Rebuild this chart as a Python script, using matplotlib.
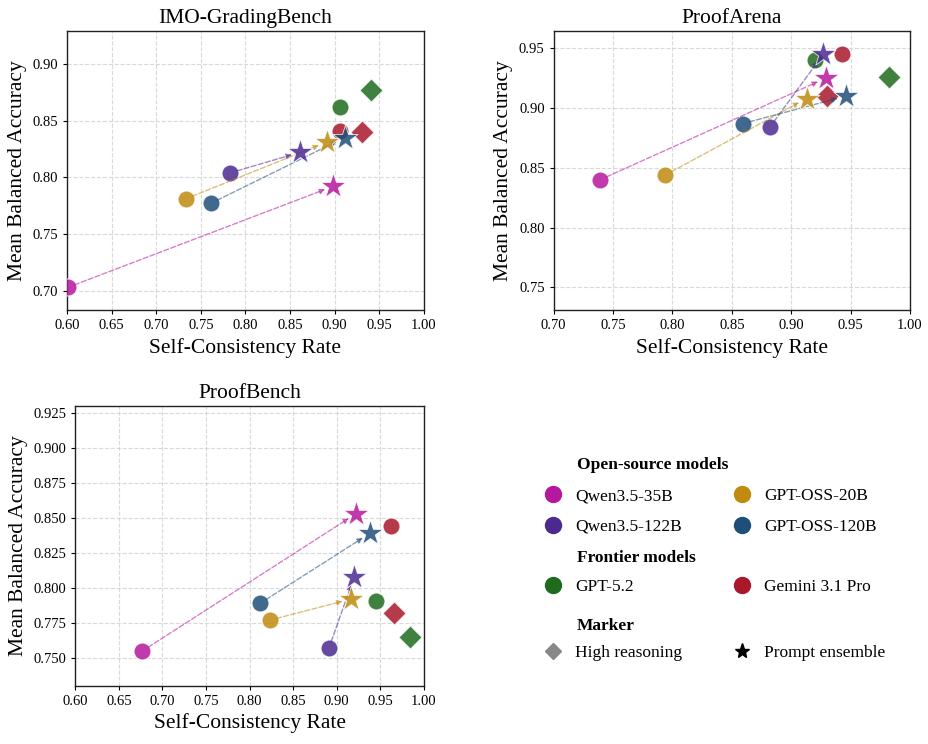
import matplotlib

matplotlib.use("Agg")
import matplotlib.pyplot as plt
from matplotlib.lines import Line2D

plt.rcParams["font.family"] = ["Liberation Serif", "DejaVu Serif"]
plt.rcParams["axes.edgecolor"] = "#222222"

models = ["Qwen3.5-35B", "Qwen3.5-122B", "GPT-OSS-20B", "GPT-OSS-120B", "GPT-5.2", "Gemini 3.1 Pro"]
colors = ["#b5179e", "#4b2991", "#c08b0f", "#1f4e79", "#1e6b1e", "#a8182a"]
open_models = models[:4]
frontier_models = models[4:]

# base runs (circle), one per model
imo_base_x = [0.601, 0.783, 0.733, 0.761, 0.906, 0.906]
imo_base_y = [0.703, 0.804, 0.781, 0.777, 0.862, 0.841]
# prompt ensemble (star), open-source models
imo_ens_x = [0.898, 0.861, 0.891, 0.911]
imo_ens_y = [0.792, 0.822, 0.831, 0.835]
# high reasoning (diamond), frontier models
imo_high_x = [0.941, 0.931]
imo_high_y = [0.877, 0.840]

arena_base_x = [0.739, 0.882, 0.794, 0.859, 0.920, 0.943]
arena_base_y = [0.840, 0.884, 0.844, 0.887, 0.940, 0.945]
arena_ens_x = [0.929, 0.927, 0.913, 0.946]
arena_ens_y = [0.925, 0.945, 0.908, 0.910]
arena_high_x = [0.982, 0.930]
arena_high_y = [0.926, 0.910]

bench_base_x = [0.677, 0.891, 0.823, 0.812, 0.945, 0.962]
bench_base_y = [0.755, 0.757, 0.777, 0.789, 0.791, 0.844]
bench_ens_x = [0.922, 0.920, 0.916, 0.938]
bench_ens_y = [0.853, 0.808, 0.792, 0.839]
bench_high_x = [0.984, 0.966]
bench_high_y = [0.765, 0.782]


def draw_panel(ax, title, base_x, base_y, ens_x, ens_y, high_x, high_y, xlim, ylim, xticks, yticks, yfmt):
    for i, c in enumerate(colors):
        ax.scatter(base_x[i], base_y[i], s=150, marker="o", color=c, alpha=0.85,
                   edgecolor="white", linewidth=0.8, zorder=3)
    for i in range(len(open_models)):
        c = colors[i]
        ax.annotate("", xy=(ens_x[i], ens_y[i]), xytext=(base_x[i], base_y[i]),
                    arrowprops=dict(arrowstyle="-|>", color=c, alpha=0.55, lw=1.0,
                                    linestyle="--", shrinkA=5, shrinkB=6, mutation_scale=8),
                    zorder=4)
        ax.scatter(ens_x[i], ens_y[i], s=360, marker="*", color=c, alpha=0.85,
                   edgecolor="white", linewidth=0.6, zorder=5)
    for j in range(len(frontier_models)):
        c = colors[4 + j]
        ax.scatter(high_x[j], high_y[j], s=140, marker="D", color=c, alpha=0.85,
                   edgecolor="white", linewidth=0.8, zorder=3)
    ax.set_xlim(*xlim)
    ax.set_ylim(*ylim)
    ax.set_xticks(xticks)
    ax.set_yticks(yticks)
    ax.set_xticklabels([f"{t:.2f}" for t in xticks], fontsize=10.5)
    ax.set_yticklabels([yfmt.format(t) for t in yticks], fontsize=10.5)
    ax.grid(True, linestyle="--", color="#d0d0d0", linewidth=0.8, alpha=0.8)
    ax.set_axisbelow(True)
    ax.set_title(title, fontsize=15.5)
    ax.set_xlabel("Self-Consistency Rate", fontsize=15.5)
    ax.set_ylabel("Mean Balanced Accuracy", fontsize=15.5)
    ax.tick_params(length=3, width=0.8)
    for sp in ax.spines.values():
        sp.set_linewidth(1.0)


fig = plt.figure(figsize=(9.29, 7.44), dpi=100)
ax1 = fig.add_axes([0.0721, 0.5833, 0.3843, 0.375])
ax2 = fig.add_axes([0.596, 0.5833, 0.3835, 0.375])
ax3 = fig.add_axes([0.081, 0.078, 0.3753, 0.3763])

x_ticks_a = [0.60 + 0.05 * k for k in range(9)]
x_ticks_b = [0.70 + 0.05 * k for k in range(7)]

draw_panel(ax1, "IMO-GradingBench", imo_base_x, imo_base_y, imo_ens_x, imo_ens_y,
           imo_high_x, imo_high_y, (0.60, 1.00), (0.683, 0.929),
           x_ticks_a, [0.70, 0.75, 0.80, 0.85, 0.90], "{:.2f}")
draw_panel(ax2, "ProofArena", arena_base_x, arena_base_y, arena_ens_x, arena_ens_y,
           arena_high_x, arena_high_y, (0.70, 1.00), (0.731, 0.9645),
           x_ticks_b, [0.75, 0.80, 0.85, 0.90, 0.95], "{:.2f}")
draw_panel(ax3, "ProofBench", bench_base_x, bench_base_y, bench_ens_x, bench_ens_y,
           bench_high_x, bench_high_y, (0.60, 1.00), (0.730, 0.930),
           x_ticks_a, [0.750, 0.775, 0.800, 0.825, 0.850, 0.875, 0.900, 0.925], "{:.3f}")

# legend: headers as text, each column its own legend so columns line up
W, H = 929, 744


def fx(px):
    return px / W


def fy(py):
    return 1 - py / H


leg_kw = dict(frameon=False, fontsize=12.5, ncol=1, loc="upper left", borderpad=0,
              handlelength=1.2, handletextpad=0.7, labelspacing=0.84, borderaxespad=0)
col1, col2 = fx(542.3), fx(731.3)


def dot(c):
    return Line2D([], [], marker="o", linestyle="none", markersize=11.5, color=c)


fig.text(fx(577), fy(465), "Open-source models", fontsize=12.5, fontweight="bold", va="center")
fig.legend([dot(colors[0]), dot(colors[1])], open_models[:2], bbox_to_anchor=(col1, fy(488)), **leg_kw)
fig.legend([dot(colors[2]), dot(colors[3])], open_models[2:], bbox_to_anchor=(col2, fy(488)), **leg_kw)

fig.text(fx(577), fy(558), "Frontier models", fontsize=12.5, fontweight="bold", va="center")
fig.legend([dot(colors[4])], frontier_models[:1], bbox_to_anchor=(col1, fy(579)), **leg_kw)
fig.legend([dot(colors[5])], frontier_models[1:], bbox_to_anchor=(col2, fy(579)), **leg_kw)

fig.text(fx(577), fy(626), "Marker", fontsize=12.5, fontweight="bold", va="center")
fig.legend([Line2D([], [], marker="D", linestyle="none", markersize=8.5, color="#888888")],
           ["High reasoning"], bbox_to_anchor=(col1, fy(645)), **leg_kw)
fig.legend([Line2D([], [], marker="*", linestyle="none", markersize=11, color="black")],
           ["Prompt ensemble"], bbox_to_anchor=(col2, fy(645)), **leg_kw)

fig.savefig("out.png", dpi=100)
